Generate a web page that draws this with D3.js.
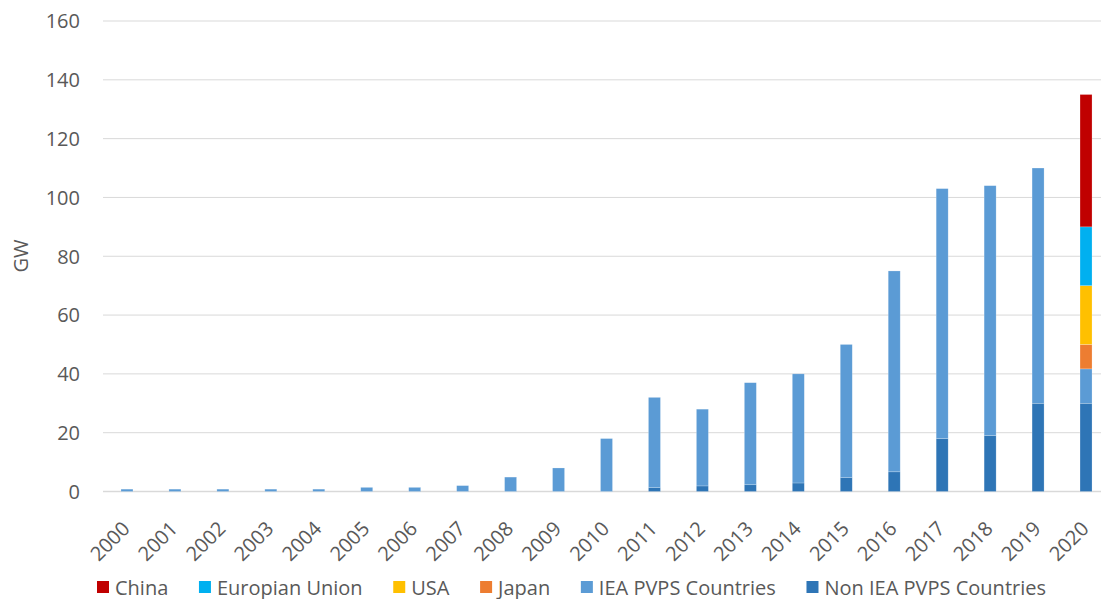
<!DOCTYPE html>
<html>
<head>
<meta charset="utf-8">
<script src="https://cdn.jsdelivr.net/npm/d3@7"></script>
<style>
  html, body { margin: 0; padding: 0; background: #fff; }
  svg { display: block; }
  text { font-family: "Open Sans", "Noto Sans", sans-serif; fill: #595959; }
</style>
</head>
<body>
<svg id="chart" width="1102" height="599"></svg>
<script>
const years = ["2000","2001","2002","2003","2004","2005","2006","2007","2008","2009","2010",
               "2011","2012","2013","2014","2015","2016","2017","2018","2019","2020"];
const nonIEA = [0,0,0,0,0,0,0,0,0,0,0, 1.3,1.9,2.3,2.9,4.7,6.7,18,19,30,30];
const ieaPVPS = [0.8,0.8,0.8,0.8,0.8,1.4,1.4,2,4.9,8,18, 30.7,26.1,34.7,37.1,45.3,68.3,85,85,80,11.7];
const japan = [0,0,0,0,0,0,0,0,0,0,0, 0,0,0,0,0,0,0,0,0,8.3];
const usa   = [0,0,0,0,0,0,0,0,0,0,0, 0,0,0,0,0,0,0,0,0,20];
const eu    = [0,0,0,0,0,0,0,0,0,0,0, 0,0,0,0,0,0,0,0,0,20];
const china = [0,0,0,0,0,0,0,0,0,0,0, 0,0,0,0,0,0,0,0,0,45];
const yTicks = [0,20,40,60,80,100,120,140,160];

// stacking order bottom -> top
const seriesNames = ["Non IEA PVPS Countries","IEA PVPS Countries","Japan","USA","Europian Union","China"];
const seriesValues = [nonIEA, ieaPVPS, japan, usa, eu, china];
const seriesColors = ["#2E75B6","#5B9BD5","#ED7D31","#FFC000","#00B0F0","#C00000"];
// legend order
const legendNames = ["China","Europian Union","USA","Japan","IEA PVPS Countries","Non IEA PVPS Countries"];

const svg = d3.select("#chart");
const plotLeft = 103, plotRight = 1101;
const FS = 20;

const x = d3.scaleBand().domain(years).range([103, 1110]).paddingInner(0.75).paddingOuter(0.375);
const y = d3.scaleLinear().domain([0, 160]).range([491.5, 21]);

// gridlines
svg.append("g").selectAll("line").data(yTicks).join("line")
  .attr("x1", plotLeft).attr("x2", plotRight)
  .attr("y1", d => y(d)).attr("y2", d => y(d))
  .attr("stroke", "#d9d9d9").attr("stroke-width", d => d === 0 ? 1.5 : 1);

// y axis labels
const yAxis = d3.axisLeft(y).tickValues(yTicks).tickSize(0).tickPadding(0);
const yg = svg.append("g").attr("transform", "translate(80,0)").call(yAxis);
yg.select(".domain").remove();
yg.selectAll("text").attr("font-size", FS).style("fill", "#595959")
  .style("font-family", '"Open Sans", sans-serif').attr("dy", "0.34em");

// y title
svg.append("text").attr("transform", "translate(28,256) rotate(-90)")
  .attr("text-anchor", "middle").attr("font-size", FS).text("GW");

// stacked data
const table = years.map((yr, i) => {
  const o = { year: yr };
  seriesNames.forEach((n, k) => o[n] = seriesValues[k][i]);
  return o;
});
const stack = d3.stack().keys(seriesNames)(table);

svg.append("g").selectAll("g").data(stack).join("g")
  .attr("fill", (d, i) => seriesColors[i])
  .selectAll("rect").data(d => d.filter(p => p[1] - p[0] > 0)).join("rect")
  .attr("x", d => x(d.data.year))
  .attr("width", x.bandwidth())
  .attr("y", d => y(d[1]))
  .attr("height", d => y(d[0]) - y(d[1]))
  .attr("stroke", "#ffffff").attr("stroke-opacity", 0.35).attr("stroke-width", 0.6);

// x labels
const xg = svg.append("g");
years.forEach(yr => {
  const cx = x(yr) + x.bandwidth() / 2;
  xg.append("text")
    .attr("transform", `translate(${cx + 4},${530}) rotate(-45)`)
    .attr("text-anchor", "end").attr("font-size", FS).text(yr);
});

// legend
const legend = svg.append("g");
const sq = 12, gapSq = 6;
const items = [];
let used = 0;
legendNames.forEach(n => {
  const t = legend.append("text").attr("font-size", FS).text(n);
  const w = t.node().getComputedTextLength();
  items.push({ n, t, w });
  used += sq + gapSq + w;
});
const legendL = 97, legendR = 1046;
const gapItem = ((legendR - legendL) - used) / (items.length - 1);
let cursor = legendL;
items.forEach(it => {
  const k = seriesNames.indexOf(it.n);
  legend.append("rect").attr("x", cursor).attr("y", 581).attr("width", sq).attr("height", sq)
    .attr("fill", seriesColors[k]);
  it.t.attr("x", cursor + sq + gapSq).attr("y", 594.5);
  cursor += sq + gapSq + it.w + gapItem;
});
</script>
</body>
</html>
